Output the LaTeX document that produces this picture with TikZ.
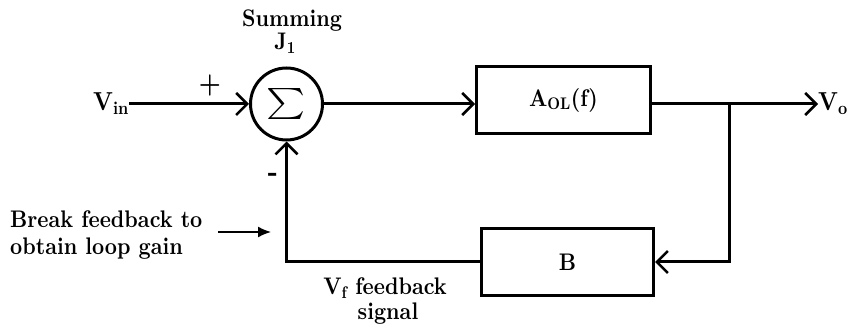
\documentclass[tikz,border=0pt]{standalone}
\usepackage{fontspec}
\newfontfamily\lmbfont{lmroman10-bold.otf}
\usetikzlibrary{arrows.meta}
\begin{document}
\begin{tikzpicture}[x=1pt,y=1pt,
  lbl/.style={font=\fontsize{24}{27}\selectfont\lmbfont, inner sep=0pt, xscale=0.88},
  biglbl/.style={lbl, font=\fontsize{26}{27}\selectfont\lmbfont},
  blockbox/.style={draw, line width=3pt, minimum height=67pt, inner sep=0pt,
    font=\fontsize{24}{24}\selectfont\lmbfont},
  sumnode/.style={draw, circle, line width=3pt, minimum size=72pt, inner sep=0pt},
  wire/.style={line width=3pt},
  barb/.style={-{Straight Barb[length=11pt,width=22pt,line width=2.5pt]}},
  thinarrow/.style={line width=1.6pt,-{Latex[length=13pt,width=11pt]}}
]
\useasboundingbox (0,0) rectangle (854,329);

% nodes
\node[sumnode] (sum) at (286.5,225) {\scalebox{3.7}[3.1]{$\textstyle\sum$}};
\node[blockbox, minimum width=174pt] (A) at (563.5,229) {\scalebox{0.88}[1]{A\textsubscript{OL}(f)}};
\node[blockbox, minimum width=172pt] (B) at (567.5,67) {\scalebox{0.88}[1]{B}};

\node[biglbl, anchor=base east] (vin) at (129,218) {V\textsubscript{in}};
\node[biglbl, anchor=base west] (vo) at (818,218) {V\textsubscript{o}};
\node[lbl, anchor=base] (summing) at (292,302) {Summing};
\node[lbl, anchor=base] (j1) at (285,279) {J\textsubscript{1}};
\node[lbl, font=\fontsize{28}{28}\selectfont\lmbfont] (plus) at (210,244) {+};
\node[lbl, font=\fontsize{30}{30}\selectfont\lmbfont] (minus) at (273,152) {-};
\node[lbl, anchor=base west] (break1) at (10,101) {Break feedback to};
\node[lbl, anchor=base west] (break2) at (10,74) {obtain loop gain};
\node[lbl, anchor=base] (vf) at (385,34) {V\textsubscript{f} feedback};
\node[lbl, anchor=base] (sig) at (388,9) {signal};

\coordinate (br) at (729,225);
\coordinate (brks) at (218,97);
\coordinate (brke) at (271,97);

% connectors
\draw[wire,barb] (vin.east |- sum) -- (sum.west);
\draw[wire,barb] (sum.east) -- (sum.east -| A.west);
\draw[wire,barb] (A.east |- sum) -- (vo.west |- sum);
\draw[wire,barb] (br) |- (B.east);
\draw[wire,barb] (B.west) -| (sum.south);
\draw[thinarrow] (brks) -- (brke);
\end{tikzpicture}
\end{document}
